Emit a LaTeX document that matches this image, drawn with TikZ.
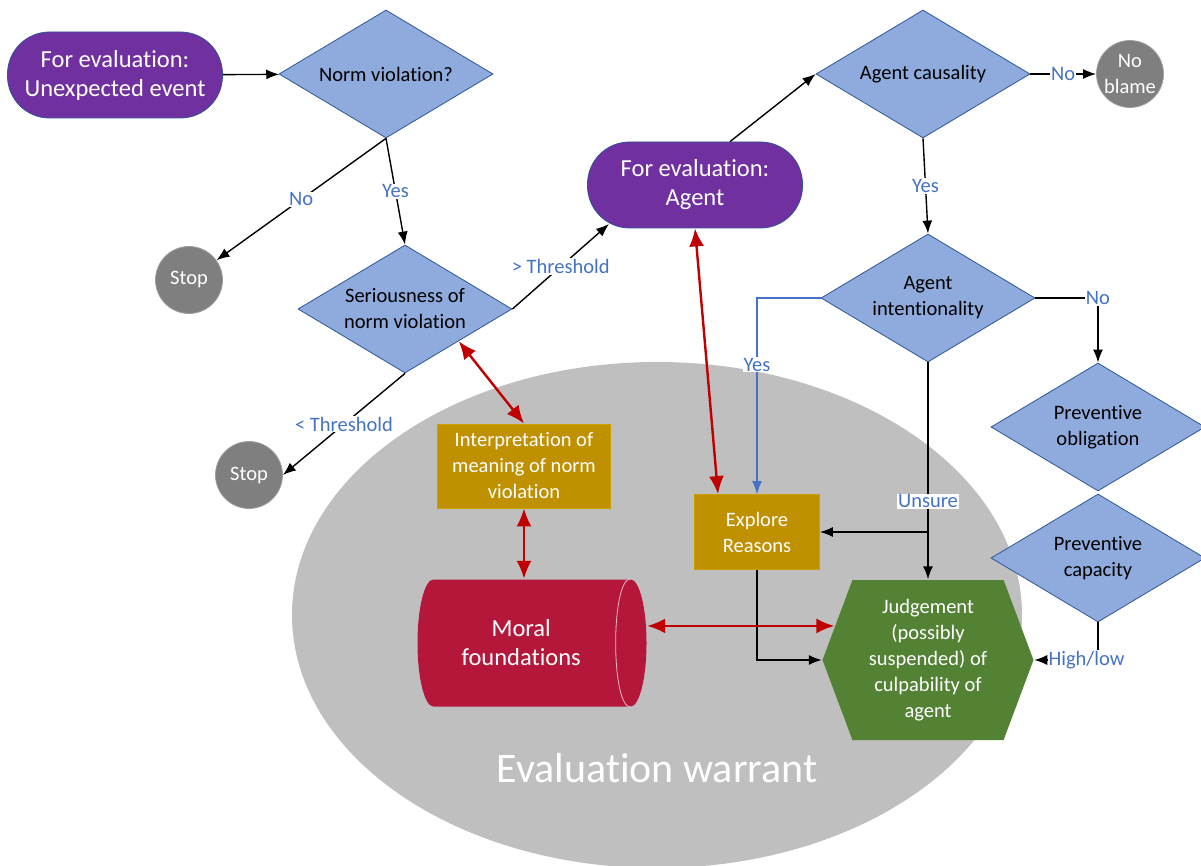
\documentclass[tikz,border=0pt]{standalone}
\usepackage{fontspec}
\setmainfont{Carlito}[Ligatures=NoCommon]
\usetikzlibrary{shapes.geometric,shapes.symbols,arrows.meta,positioning}
\definecolor{cpurple}{HTML}{7030A0}
\definecolor{cedge}{HTML}{2F5597}
\definecolor{cdec}{HTML}{8FAADC}
\definecolor{cstop}{HTML}{7F7F7F}
\definecolor{cgold}{HTML}{BF9000}
\definecolor{cmoral}{HTML}{B5173B}
\definecolor{cgreen}{HTML}{548235}
\definecolor{cwarrant}{HTML}{BFBFBF}
\definecolor{clabel}{HTML}{4472C4}
\definecolor{cred}{HTML}{C00000}
\newcommand{\smallsize}{\fontsize{20.5}{26}\selectfont}
\newcommand{\largesize}{\fontsize{24.5}{29}\selectfont}
\tikzset{
    node style term/.style={draw=cedge,line width=0.8pt,fill=cpurple,text=white,
        rounded corners=42pt,minimum width=215pt,minimum height=86pt,
        align=center,font=\largesize},
    node style dec/.style={diamond,aspect=1.67,draw=cedge,line width=0.8pt,fill=cdec,
        inner sep=0pt,minimum width=214pt,minimum height=128pt,
        align=center,font=\smallsize},
    node style stop/.style={circle,draw=gray!75,line width=0.8pt,fill=cstop,text=white,
        inner sep=0pt,minimum size=67pt,align=center,font=\smallsize},
    node style box/.style={draw=cgold!85!yellow,line width=0.8pt,fill=cgold,text=white,
        align=center,font=\smallsize},
    node style db/.style={cylinder,aspect=0.6,fill=cmoral,text=white,anchor=shape center,
        minimum width=127pt,minimum height=229pt,align=center,font=\largesize},
    node style hex/.style={signal,signal to=west and east,signal pointer angle=139,
        fill=cgreen,text=white,inner sep=0pt,minimum width=211pt,minimum height=160pt,
        align=center,font=\smallsize},
    arrow style lbl/.style={midway,fill=white,text=clabel,inner sep=1pt,font=\smallsize},
    arrow style red/.style={draw=cred,line width=2.4pt,
        {Latex[length=18pt,width=15pt]}-{Latex[length=18pt,width=15pt]}},
}

\begin{document}
\begin{tikzpicture}[x=1pt,y=-1pt,line width=1.4pt,>={Latex[length=13pt,width=10pt]}]
\useasboundingbox (0,0) rectangle (1201,866);
% le fond
\node[ellipse,fill=cwarrant,minimum width=730pt,minimum height=506pt] (warrant) at (657,615) {};
\node[text=white,font=\fontsize{42}{50}\selectfont] (warrantlbl) at (657,768) {Evaluation warrant};
% les noeuds
\node[node style term] (unexp) at (115,75) {For evaluation:\\Unexpected event};
\node[node style dec] (normviol) at (386,74) {Norm violation?};
\node[node style stop] (stopa) at (189,280) {Stop};
\node[node style dec] (serious) at (405,309) {Seriousness of\\norm violation};
\node[node style stop] (stopb) at (249,475) {Stop};
\node[node style term] (agent) at (695,185) {For evaluation:\\Agent};
\node[node style dec] (causal) at (923,74) {Agent causality};
\node[node style stop,inner sep=-8pt] (noblame) at (1130,74) {No\\blame};
\node[node style dec] (intent) at (928,298) {Agent\\intentionality};
\node[node style dec] (prevobl) at (1098,427) {Preventive\\obligation};
\node[node style dec] (prevcap) at (1098,558) {Preventive\\capacity};
\node[node style box,minimum width=173pt,minimum height=84pt] (interp) at (524,466)
    {Interpretation of\\meaning of norm\\violation};
\node[node style box,minimum width=125pt,minimum height=75pt] (explore) at (757,532)
    {Explore\\Reasons};
\node[node style db] (moral) at (532,643) {Moral\\foundations};
\draw[white!70!cmoral,line width=0.8pt] (moral.before top) .. controls +(-20,0) and +(-20,0) .. (moral.after top);
\node[node style hex] (judge) at (928,660)
    {Judgement\\(possibly\\suspended) of\\culpability of\\agent};
% les fleches
\draw[->] (unexp) -- (normviol);
\draw[->] (normviol.south) -- node[arrow style lbl]{No} (stopa);
\draw[->] (normviol.south) -- node[arrow style lbl]{Yes} (serious.north);
\draw[->] (serious.east) -- node[arrow style lbl]{> Threshold} ([xshift=-86pt,yshift=-39pt]agent.center);
\draw[->] (serious.south) -- node[arrow style lbl]{< Threshold} (stopb.east);
\draw[->] ([xshift=35pt]agent.north) -- (causal.west);
\draw[->] (causal.east) -- node[arrow style lbl]{No} (noblame);
\draw[->] (causal.south) -- node[arrow style lbl]{Yes} (intent.north);
\draw[->] (intent.east) -| node[arrow style lbl]{No} (prevobl.north);
\draw[->,clabel,line width=1.1pt] (intent.west) -| node[arrow style lbl,pos=0.67]{Yes} (explore.north);
\draw[->] (intent.south) -- node[arrow style lbl,pos=0.64]{Unsure} (judge.north);
\draw[->] (intent.south |- explore.east) -- (explore.east);
\draw[->] (explore.south) |- (judge.west);
\draw[->] (prevcap.south) |- node[arrow style lbl,pos=0.59]{High/low} (judge.east);
\draw[arrow style red] (serious.south east) -- (interp.north);
\draw[arrow style red] (interp.south) -- (interp.south |- moral.north);
\draw[arrow style red] (agent.south) -- ([xshift=-39pt]explore.north);
\draw[arrow style red] (moral.east |- judge.160) -- (judge.160);
\end{tikzpicture}
\end{document}
